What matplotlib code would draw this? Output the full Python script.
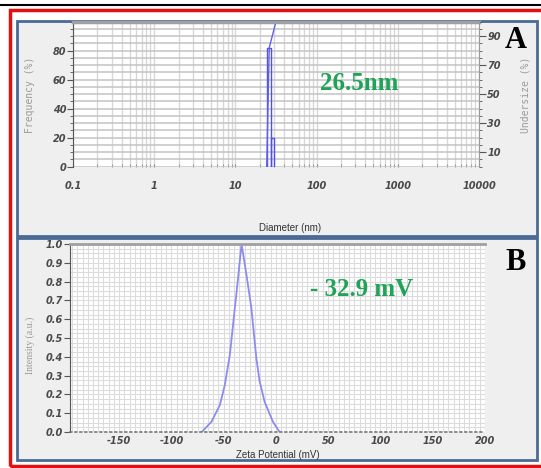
import matplotlib
matplotlib.use("Agg")
import matplotlib.pyplot as plt
from matplotlib.patches import Rectangle
from matplotlib.lines import Line2D
from matplotlib.ticker import MultipleLocator, FixedLocator, NullFormatter, LogLocator

# panel A: size distribution
hist_edges = [24.3, 27.2, 30.1]
hist_freq = [82, 20]
cum_diam = [24.3, 26.1, 31.6]
cum_under = [0, 82, 100]
a_xticks = [0.1, 1, 10, 100, 1000, 10000]
a_xlabels = ["0.1", "1", "10", "100", "1000", "10000"]

# panel B: zeta potential
zeta = [-71, -61.6, -53.6, -48.9, -44.1, -39.3, -36.2, -32.9, -28.3, -23.5,
        -18.7, -15.6, -10.8, -2.9, 3.5]
intensity = [0.0, 0.055, 0.144, 0.25, 0.41, 0.66, 0.82, 1.0, 0.84, 0.66,
             0.39, 0.27, 0.16, 0.055, 0.0]
b_xticks = [-150, -100, -50, 0, 50, 100, 150, 200]

W, H = 541, 468
fig = plt.figure(figsize=(W / 100, H / 100), dpi=100)
fig.patch.set_facecolor("white")


def box(x0, y0, x1, y1):
    return [x0 / W, 1 - y1 / H, (x1 - x0) / W, (y1 - y0) / H]


def rect(x0, y0, x1, y1, **kw):
    fig.patches.append(Rectangle((x0 / W, 1 - y1 / H), (x1 - x0) / W, (y1 - y0) / H,
                                 transform=fig.transFigure, zorder=-5, **kw))


# outer frame
fig.lines.append(Line2D([0, 1], [1 - 5 / H, 1 - 5 / H], transform=fig.transFigure,
                        color="black", lw=1.5, zorder=-5))
rect(10, 10, 560, 466, fill=False, edgecolor="#e41010", lw=2.5)
rect(17, 21, 537, 236, facecolor="#efefef", edgecolor="#4a6a96", lw=2)
rect(17, 238, 537, 460, facecolor="#efefef", edgecolor="#4a6a96", lw=2)

tick_font = dict(style="italic", weight="bold", size=7, color="#4a4a4a")

# ---------------- panel A ----------------
ax = fig.add_axes(box(73, 21.7, 479, 166.7))
ax.set_xscale("log")
ax.set_xlim(0.1, 10000)
ax.set_ylim(0, 100)
ax.set_facecolor("white")
ax.plot([hist_edges[0], hist_edges[0], hist_edges[1], hist_edges[1]],
        [0, hist_freq[0], hist_freq[0], 0], color="#5050ee", lw=1)
ax.plot([hist_edges[1], hist_edges[1], hist_edges[2], hist_edges[2]],
        [0, hist_freq[1], hist_freq[1], 0], color="#5050ee", lw=1)
ax.plot(cum_diam, cum_under, color="#6060f0", lw=1, clip_on=True)

ax.xaxis.set_major_locator(FixedLocator(a_xticks))
ax.set_xticklabels(a_xlabels, **tick_font)
ax.xaxis.set_minor_locator(LogLocator(base=10, subs=range(2, 10)))
ax.xaxis.set_minor_formatter(NullFormatter())
ax.yaxis.set_major_locator(FixedLocator([0, 20, 40, 60, 80]))
ax.set_yticklabels(["0", "20", "40", "60", "80"], **tick_font)
ax.yaxis.set_minor_locator(MultipleLocator(5))
ax.grid(True, axis="x", which="both", color="#d8d8d8", lw=1.0)
ax.grid(True, axis="y", which="both", color="#c4c4c4", lw=1.1)
ax.set_axisbelow(True)
ax.tick_params(axis="x", which="both", length=2, direction="in", color="#888888", pad=10)
ax.tick_params(axis="y", which="major", length=4, color="#555555", pad=1)
ax.tick_params(axis="y", which="minor", length=2, color="#555555")
for s in ["right", "bottom"]:
    ax.spines[s].set_visible(False)
ax.spines["left"].set_color("#555555")
ax.spines["left"].set_linewidth(0.8)
ax.spines["top"].set_color("#a0a0a0")
ax.spines["top"].set_linewidth(2.5)

ax2 = ax.twinx()
ax2.set_ylim(0, 100)
ax2.yaxis.set_major_locator(FixedLocator([10, 30, 50, 70, 90]))
ax2.set_yticklabels(["10", "30", "50", "70", "90"], **tick_font)
ax2.yaxis.set_minor_locator(MultipleLocator(5))
ax2.tick_params(axis="y", which="major", length=5, color="#555555", pad=1)
ax2.tick_params(axis="y", which="minor", length=2, color="#555555")
for s in ["left", "top", "bottom"]:
    ax2.spines[s].set_visible(False)
ax2.spines["right"].set_color("#999999")

fig.text(30 / W, 1 - 95 / H, "Frequency (%)", rotation=90, ha="center", va="center",
         family="DejaVu Sans Mono", size=7, color="#9a9a9a")
fig.text(526 / W, 1 - 95 / H, "Undersize (%)", rotation=90, ha="center", va="center",
         family="DejaVu Sans Mono", size=7, color="#9a9a9a")
fig.text(290 / W, 1 - 228 / H, "Diameter (nm)", ha="center", va="center",
         family="Liberation Sans", size=7, color="#333333")
fig.text(359 / W, 1 - 84 / H, "26.5nm", ha="center", va="center",
         family="Liberation Serif", weight="bold", size=18, color="#1fa356")
fig.text(516 / W, 1 - 40 / H, "A", ha="center", va="center",
         family="Liberation Serif", weight="bold", size=22, color="black")

# ---------------- panel B ----------------
bx = fig.add_axes(box(70, 244, 485, 432))
bx.set_xlim(-197, 200)
bx.set_ylim(0, 1.0)
bx.set_facecolor("white")
bx.plot(zeta, intensity, color="#8c8cf0", lw=1.3)
bx.xaxis.set_major_locator(FixedLocator(b_xticks))
bx.set_xticklabels([str(v) for v in b_xticks], **tick_font)
bx.xaxis.set_minor_locator(MultipleLocator(5))
bx.set_yticks([i / 10 for i in range(11)])
bx.set_yticklabels(["%.1f" % (i / 10) for i in range(11)], **tick_font)
bx.yaxis.set_minor_locator(MultipleLocator(0.025))
bx.grid(True, which="both", color="#dcdcdc", lw=0.8)
bx.set_axisbelow(True)
bx.tick_params(axis="x", which="both", length=0, pad=3)
bx.tick_params(axis="y", which="major", length=4, color="#555555", pad=1)
bx.tick_params(axis="y", which="minor", length=0)
bx.spines["right"].set_visible(False)
bx.spines["left"].set_color("#555555")
bx.spines["left"].set_linewidth(0.8)
bx.spines["top"].set_color("#a0a0a0")
bx.spines["top"].set_linewidth(2)
bx.spines["bottom"].set_color("#777777")
bx.spines["bottom"].set_linestyle((0, (1, 2)))
bx.spines["bottom"].set_linewidth(1.2)

fig.text(30 / W, 1 - 345 / H, "Intensity (a.u.)", rotation=90, ha="center", va="center",
         family="Liberation Serif", size=7, color="#9a9a9a")
fig.text(278 / W, 1 - 455 / H, "Zeta Potential (mV)", ha="center", va="center",
         family="Liberation Sans", size=7, color="#333333")
fig.text(362 / W, 1 - 290 / H, "- 32.9 mV", ha="center", va="center",
         family="Liberation Serif", weight="bold", size=18, color="#1fa356")
fig.text(516 / W, 1 - 262 / H, "B", ha="center", va="center",
         family="Liberation Serif", weight="bold", size=22, color="black")

fig.savefig("out.png", dpi=100)
